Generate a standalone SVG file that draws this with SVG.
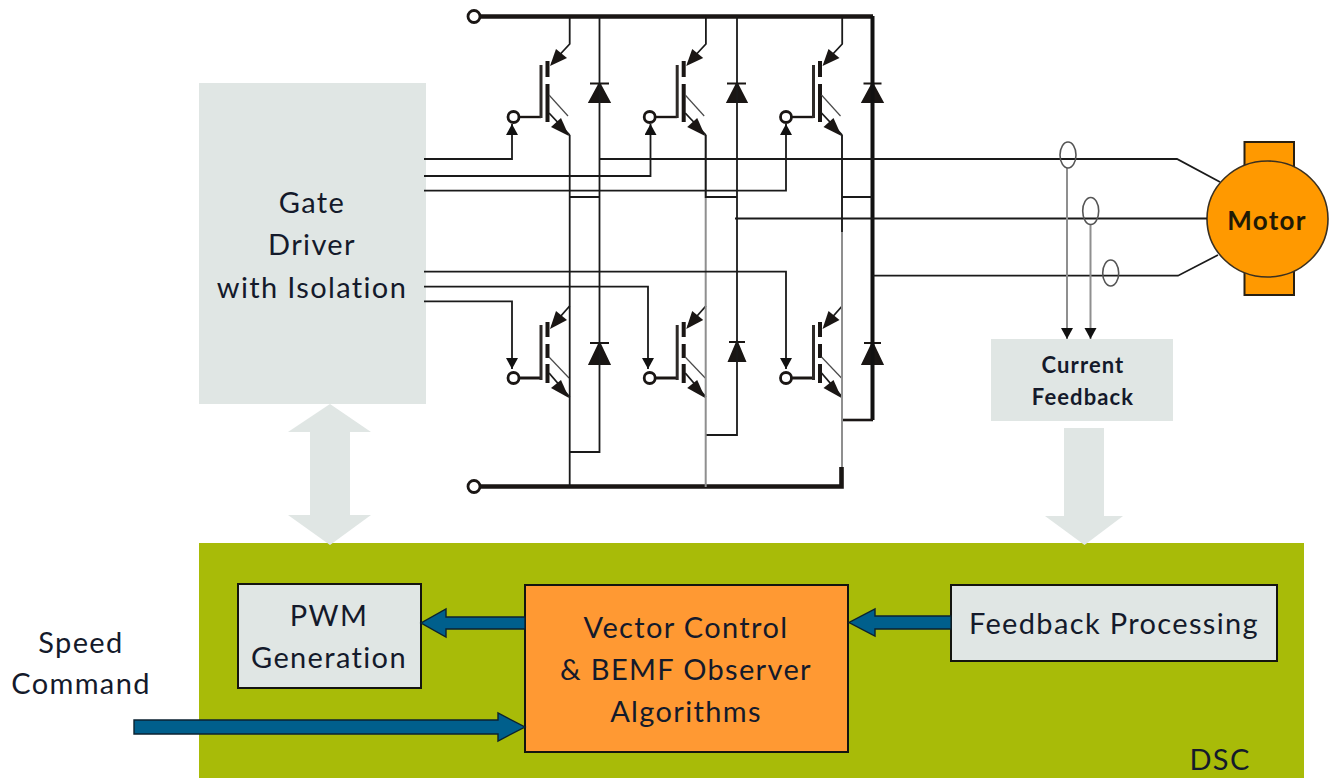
<svg xmlns="http://www.w3.org/2000/svg" xmlns:xlink="http://www.w3.org/1999/xlink" width="1329" height="778" viewBox="0 0 1329 778">
<style>
.t{font-family:"Lato","Open Sans","Liberation Sans",sans-serif;fill:#141a2b;text-anchor:middle}
.f{font-size:29px;letter-spacing:1.35px}
.panel{fill:#E0E6E4}
.w{fill:none;stroke:#1a1a1a;stroke-width:1.8}
.g{fill:none;stroke:#8f8f8f;stroke-width:2}
.bus{fill:none;stroke:#1a1614;stroke-width:4.6}
.blue{fill:#005F8C;stroke:#0b2230;stroke-width:1.4}
.box{stroke:#14140f;stroke-width:2}
.dk{fill:#1a1614}
.pin{fill:#fff;stroke:#1a1614;stroke-width:2.8}
.b{fill:none;stroke:#2a2624;stroke-width:4}
.thin{fill:none;stroke:#4a4a4a;stroke-width:1.2}
.cs{fill:none;stroke:#555;stroke-width:1.6}
.sm{font-size:22px;font-weight:700;letter-spacing:1.1px}
</style>
<defs>
<marker id="ah" markerUnits="userSpaceOnUse" markerWidth="14" markerHeight="14" refX="11" refY="6" orient="auto"><path d="M0 0L11 6L0 12Z" fill="#111"/></marker>
<g id="igbtU">
<circle class="pin" cx="513.5" cy="117" r="5.5"/>
<path d="M519 117H541" stroke="#1a1614" stroke-width="2.4" fill="none"/>
<path d="M541 65V118" stroke="#2e2a28" stroke-width="3" fill="none"/>
<path d="M547.5 61V77M547.5 84V122" stroke="#1a1614" stroke-width="4" fill="none"/>
<path class="thin" d="M549 95L568 116"/>
<path class="w" d="M569.7 16V44L552 63"/>
<path class="dk" d="M550 66L556 49L567 58Z"/>
<path class="w" d="M549 113L569.7 135"/>
<path class="dk" d="M569 136L551 127L561 118Z"/>
</g>
<g id="igbtL">
<circle class="pin" cx="513.5" cy="378" r="5.5"/>
<path d="M519 378H541" stroke="#1a1614" stroke-width="3" fill="none"/>
<path d="M541 325V380" stroke="#2e2a28" stroke-width="3" fill="none"/>
<path d="M547.5 322V337M547.5 344V358M547.5 364V383" stroke="#1a1614" stroke-width="4" fill="none"/>
<path class="thin" d="M549 357L569 378"/>
<path class="w" d="M569.7 306L552 326"/>
<path class="dk" d="M550 329L556 311L567 320Z"/>
<path class="w" d="M549 373L569.7 397"/>
<path class="dk" d="M569 398L551 388L561 380Z"/>
</g>
</defs>
<rect width="1329" height="778" fill="#fff"/>

<g id="dsc">
<rect x="199" y="543" width="1105" height="235" fill="#A8BB08"/>
<text class="t f" x="1220" y="770">DSC</text>
</g>

<g id="gate-driver">
<rect class="panel" x="199" y="83" width="227" height="321"/>
<text class="t f" x="312" y="213">Gate</text>
<text class="t f" x="312" y="255">Driver</text>
<text class="t f" x="312" y="298">with Isolation</text>
</g>

<g id="current-feedback">
<rect class="panel" x="991" y="339" width="182" height="82"/>
<text class="t sm" x="1083" y="373">Current</text>
<text class="t sm" x="1083" y="405">Feedback</text>
</g>

<g id="pwm-generation">
<rect class="panel box" x="238" y="584" width="183" height="104"/>
<text class="t f" x="329" y="626">PWM</text>
<text class="t f" x="329" y="668">Generation</text>
</g>

<g id="vector-control">
<rect class="box" x="525" y="585" width="323" height="167" fill="#FF9933"/>
<text class="t f" x="686" y="638">Vector Control</text>
<text class="t f" x="686" y="680">&amp; BEMF Observer</text>
<text class="t f" x="686" y="722">Algorithms</text>
</g>

<g id="feedback-processing">
<rect class="panel box" x="951" y="585" width="326" height="76"/>
<text class="t f" x="1114" y="634">Feedback Processing</text>
</g>

<g id="speed-command">
<text class="t f" x="81" y="653">Speed</text>
<text class="t f" x="81" y="694">Command</text>
</g>

<g id="motor">
<rect x="1244.5" y="142" width="49.5" height="153" fill="#FF9900" stroke="#2a2010" stroke-width="2"/>
<ellipse cx="1267.5" cy="219" rx="60.5" ry="58" fill="#FF9900" stroke="#3a3020" stroke-width="1.6"/>
<text class="t" x="1267" y="230" font-size="26" font-weight="700" letter-spacing="1.3" style="fill:#1f1a05">Motor</text>
</g>

<g id="inverter">
<circle class="pin" cx="474" cy="16.5" r="6"/>
<circle class="pin" cx="474" cy="486.5" r="6"/>
<use xlink:href="#igbtU" href="#igbtU"/>
<use xlink:href="#igbtU" href="#igbtU" x="136.2"/>
<use xlink:href="#igbtU" href="#igbtU" x="272.5"/>
<use xlink:href="#igbtL" href="#igbtL"/>
<use xlink:href="#igbtL" href="#igbtL" x="136.2"/>
<use xlink:href="#igbtL" href="#igbtL" x="272.5"/>
<g id="diodes" class="dk">
<path d="M590 83.5H609M599.5 83.5L609.5 102H589.5Z" stroke="#1a1614" stroke-width="2"/>
<path d="M727 83.500H746M737 83.5L746.5 102H727.5Z" stroke="#1a1614" stroke-width="2"/>
<path d="M863.5 83.5H881.5M872.5 83.5L882.5 102H862.5Z" stroke="#1a1614" stroke-width="2"/>
<path d="M590 343H609M599.5 343L609.5 364H589.5Z" stroke="#1a1614" stroke-width="2"/>
<path d="M729 342H745M737 342L745 361H729Z" stroke="#1a1614" stroke-width="2"/>
<path d="M864 343H881M872.5 343L882.500 364H862.5Z" stroke="#1a1614" stroke-width="2"/>
</g>
</g>

<g id="connectors">
<path class="bus" d="M480 16.5H873"/>
<path d="M872.5 16V420" fill="none" stroke="#111" stroke-width="4"/>
<path class="bus" d="M480 486.5H841.5V467"/>
<path class="w" d="M599.5 16V452H569.7"/>
<path class="w" d="M737 16V435H705.7"/>
<path class="w" d="M569.7 135V487"/>
<path class="g" d="M705.7 135V487"/>
<path class="w" d="M705.7 135V198"/>
<path class="g" d="M842 135V467"/>
<path class="w" d="M842 135V232"/>
<path d="M843 420H873" fill="none" stroke="#1a1614" stroke-width="2.6"/>
<path class="w" d="M569.7 197H599.5M705.7 197H737M842 197H872"/>
<path class="w" d="M424 159H512V124" marker-end="url(#ah)"/>
<path class="w" d="M424 176H650.5V124" marker-end="url(#ah)"/>
<path class="w" d="M424 190.7H786V124" marker-end="url(#ah)"/>
<path class="w" d="M424 271.7H786V369" marker-end="url(#ah)"/>
<path class="w" d="M424 286.7H648V369" marker-end="url(#ah)"/>
<path class="w" d="M424 301.3H512V369" marker-end="url(#ah)"/>
<path class="w" d="M599.5 159H1177L1220 182"/>
<path class="w" d="M735 218.5H1207"/>
<path class="w" d="M873 275.7H1178L1218 255"/>
<path class="g" d="M1067 168V339" marker-end="url(#ah)"/>
<path class="g" d="M1090.5 225V339" marker-end="url(#ah)"/>
<ellipse class="cs" cx="1068" cy="155" rx="8" ry="13"/>
<ellipse class="cs" cx="1090.7" cy="211" rx="8" ry="13.5"/>
<ellipse class="cs" cx="1110.7" cy="273" rx="8" ry="13"/>
<path class="panel" d="M330 404L371 432H350V515H371L330 545L288 515H310V432H288Z"/>
<path class="panel" d="M1064 428H1104V516H1123L1084.5 545L1045 516H1064Z"/>
<path class="blue" d="M525 617H446V609L421 623L446 637V629H525Z"/>
<path class="blue" d="M951 616H875V609L849 622.5L875 636V629H951Z"/>
<path class="blue" d="M134 720H498V713L525 727L498 741V734H134Z"/>
</g>
</svg>
